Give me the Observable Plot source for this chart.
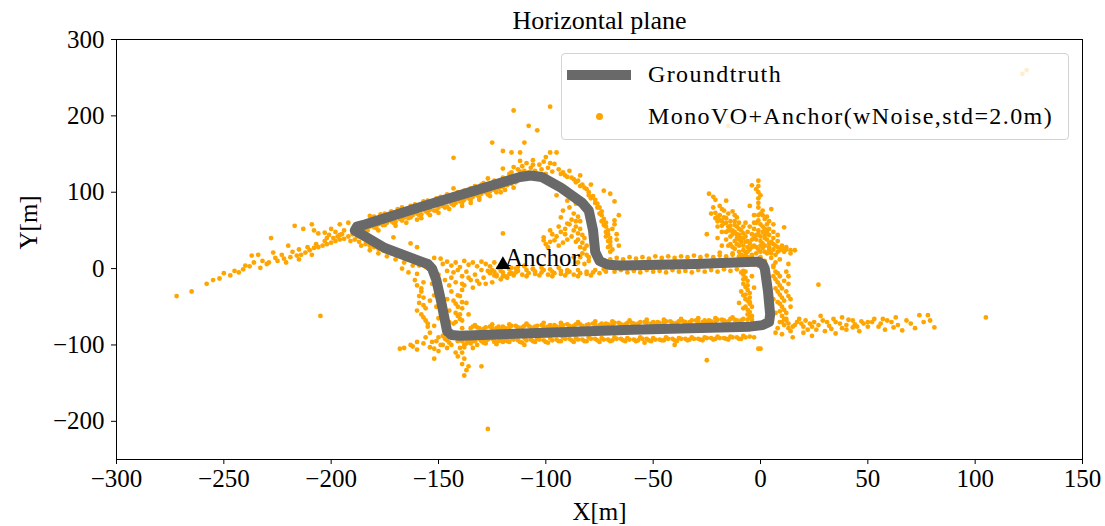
<!DOCTYPE html>
<html><head><meta charset="utf-8">
<script src="https://cdn.jsdelivr.net/npm/d3@7"></script>
<script src="https://cdn.jsdelivr.net/npm/@observablehq/plot@0.6"></script>
<style>
body{margin:0;background:#fff;}
#wrap{position:relative;width:1105px;height:526px;font-family:"Liberation Serif",serif;color:#000;}
#wrap svg{position:absolute;left:0;top:0;}
.legend{position:absolute;left:561px;top:53px;width:506px;height:85px;border:1px solid #d3d3d3;border-radius:4px;background:rgba(255,255,255,0.8);}
.legend .sw-line{position:absolute;left:5px;top:16px;width:64px;height:10px;background:dimgray;}
.legend .sw-dot{position:absolute;left:34px;top:59px;width:7px;height:7px;border-radius:50%;background:orange;}
.legend .lbl{position:absolute;left:86px;font-size:24px;line-height:24px;letter-spacing:1.4px;white-space:nowrap;}
</style></head>
<body><div id="wrap"></div>
<script>
const xTicks = [-300,-250,-200,-150,-100,-50,0,50,100,150];
const yTicks = [-200,-100,0,100,200,300];
const titleText = "Horizontal plane";
const seriesNames = ["Groundtruth", "MonoVO+Anchor(wNoise,std=2.0m)"];

// Groundtruth trajectory
const gtX = [-1,1,2,3.5,4.5,4,1,-5,-60,-100,-140,-144,-146,-147,-149,-151,-153,-155,-158,-175,-189,-188,-184,-158,-112,-107,-102,-93,-83,-80,-78,-77,-75,-71,-65,-30,-3,-1];
const gtY = [9,6,0,-30,-60,-70,-74,-76,-80,-84,-88,-87,-82,-68,-40,-15,0,6,9,27,50,55,58,81,120,122,120,106,86,76,50,22,10,5,4,6,9,9];

// Anchor
const anchorX = [-120], anchorY = [5], anchorLabel = ["Anchor"];

// MonoVO+Anchor estimates, by region
const voWest = [[-272,-36],[-265,-30],[-258,-20],[-255,-15],[-252,-13],[-250,-6],[-247,-9],[-245,-3],[-243,-5],[-241,-1],[-238,3],[-237,17],[-234,18],[-233,1],[-230,6],[-229,8],[-227,21],[-225,10],[-222,13],[-219,15],[-216,17],[-214,18],[-212,21],[-210,24],[-208,27],[-206,28],[-204,30],[-202,32],[-200,34],[-198,36],[-196,38],[-194,39],[-217,56],[-213,52],[-209,58],[-208,50],[-206,46],[-203,47],[-201,44],[-200,52],[-198,48],[-196,58],[-196,44],[-194,50],[-192,60],[-192,42],[-190,45],[-189,38],[-188,42],[-187,35],[-186,47],[-185,40],[-184,32],[-183,37],[-182,30],[-181,35],[-180,28],[-179,33],[-178,26],[-177,30],[-176,24],[-175,28],[-174,22],[-173,26],[-172,20],[-171,24],[-170,18],[-169,22],[-168,16],[-167,20],[-166,14],[-165,18],[-164,12],[-163,16],[-162,10],[-161,14],[-160,8],[-159,4],[-164,-5],[-160,-7],[-157,5],[-156,2],[-171,41],[-160,28],[-152,14],[-149,13],[-163,33],[-205,-62],[-228,40],[-220,30],[-191,36],[-186,30],[-182,24],[-178,20],[-174,16],[-170,12],[-166,8],[-162,4],[-167,0],[-197,42],[-202,40],
[-232,10],[-226,14],[-223,18],[-218,22],[-215,25],[-211,28],[-207,32],[-203,36],[-199,40],[-195,45],[-240,4],[-236,8],[-221,8],[-215,12],[-209,18]];
const voNorthWest = [[-184,52],[-182,55],[-180,54],[-178,58],[-176,57],[-174,60],[-172,62],[-170,61],[-168,65],[-166,67],[-164,66],[-162,70],[-160,72],[-158,71],[-156,75],[-154,77],[-152,76],[-150,80],[-148,82],[-146,81],[-144,85],[-142,86],[-140,88],[-138,90],[-136,92],[-134,94],[-132,96],[-130,98],[-128,100],[-126,101],[-124,103],[-122,105],[-120,107],[-118,109],[-116,111],[-114,113],[-178,50],[-170,56],[-165,60],[-158,66],[-150,73],[-145,78],[-139,82],[-135,86],[-131,90],[-126,95],[-121,100],[-160,64],[-154,70],[-180,68],[-175,72],[-169,78],[-163,82],[-157,88],[-151,92],[-146,97],[-143,105],[-138,102],[-133,108],[-129,112],[-127,118],[-124,115],[-120,119],[-120,131],[-143,145],[-125,165],[-115,207],[-98,212],[-120,154],[-116,152],[-112,152],[-110,165],[-108,187],[-104,181],[-98,152],[-95,152],[-116,126],[-113,130],[-111,134],[-109,138],[-107,132],[-105,128],[-103,136],[-101,140],[-99,132],[-97,127],[-112,141],[-106,142],[-104,124],[-100,124],[-96,137],[-108,126],[-114,121],[-110,128],[-106,136],[-102,130],[-98,138],[-115,133],[-100,146],[-94,130],[-92,126]];
const voNorthWestFill = [[-183,50],[-179,53],[-175,57],[-171,60],[-167,63],[-163,67],[-159,70],[-155,73],[-151,76],[-147,80],[-143,83],[-139,87],[-135,90],[-131,93],[-127,97],[-123,100],[-119,103],[-115,106],[-182,69],[-177,71],[-172,75],[-167,80],[-161,84],[-155,89],[-149,94],[-141,100],[-135,105],[-130,110],[-117,124],[-112,127]];
const voNorthEast = [[-93,124],[-90,120],[-87,117],[-85,115],[-83,110],[-81,104],[-80,100],[-78,95],[-77,90],[-76,85],[-75,80],[-74,75],[-74,70],[-73,65],[-72,60],[-72,55],[-71,50],[-71,45],[-70,40],[-70,35],[-70,30],[-69,25],[-68,63],[-67,45],[-66,30],[-68,88],[-70,98],[-66,70],[-79,110],[-84,122],[-89,128],[-73,102],[-90,89],[-93,67],[-90,59],[-87,72],[-85,46],[-84,28],[-98,50],[-101,41],[-96,37],[-99,28],[-87,15],[-82,6],[-101,37],[-92,76],[-89,80],[-88,64],[-86,55],[-85,38],[-83,20],[-91,45],[-94,55],[-86,85],[-88,95],[-92,100],[-95,96],[-84,62],[-82,40],[-81,30],[-80,15],[-120,46],
[-91,122],[-88,119],[-86,113],[-84,108],[-82,106],[-80,96],[-79,92],[-77,86],[-76,80],[-75,72],[-74,62],[-73,57],[-72,48],[-72,42],[-71,36],[-71,28],[-70,22],[-69,52],[-68,58],[-67,38],
[-97,45],[-95,42],[-93,48],[-91,52],[-89,58],[-87,50],[-86,62],[-85,68],[-84,52],[-83,44],[-83,34],[-82,26],[-81,18],[-80,10],[-100,32],[-98,35],[-94,30],[-92,34],[-90,38],[-88,42],[-86,35],[-84,15],[-85,8]];
const voMiddle = [[-126,-6],[-123,-8],[-120,-5],[-117,-7],[-114,-5],[-111,-8],[-108,-6],[-105,-7],[-102,-5],[-99,-8],[-96,-6],[-93,-7],[-90,-5],[-87,-8],[-84,-6],[-81,-7],[-78,-5],[-75,-6],[-72,-4],[-148,6],[-146,9],[-144,4],[-142,8],[-140,2],[-138,10],[-136,5],[-134,8],[-132,3],[-130,9],[-128,6],[-126,3],[-124,8],[-122,1],[-118,2],[-114,0],[-110,3],[-106,-1],[-102,1],[-98,-1],[-94,1],[-90,-2],[-141,-2],[-139,-10],[-137,-4],[-135,-15],[-133,-8],[-131,-20],[-129,-12],[-127,-3],[-125,-18],[-123,-10],[-121,-14],[-138,-22],[-134,-25],[-130,-2],[-144,-12],[-142,-18],[-146,-3],[-118,-12],[-113,2],[-110,4],[-106,0],[-116,1],
[-150,-8],[-147,-15],[-145,-22],[-143,-5],[-136,-12],[-132,-16],[-128,-20],[-124,-4],[-120,-10],[-116,-6]];
const voMiddleFill = [[-125,-2],[-121,-3],[-117,-1],[-113,-3],[-109,-2],[-105,-4],[-101,-2],[-97,-4],[-93,-3],[-89,-4],[-85,-2],[-81,-4],[-77,-2],[-73,-1],[-124,-9],[-119,-10],[-115,-9],[-109,-10],[-103,-9],[-97,-10],[-91,-9],[-85,-10],[-79,-9]];
const voSouthWest = [[-160,-22],[-158,-30],[-157,-38],[-159,-45],[-156,-52],[-158,-60],[-156,-68],[-155,-76],[-161,-15],[-157,-18],[-154,-42],[-160,-55],[-154,-84],[-143,-42],[-141,-50],[-142,-58],[-140,-66],[-143,-72],[-139,-78],[-137,-45],[-136,-60],[-144,-30],[-141,-35],[-139,-20],[-139,-28],[-140,-36],[-139,-44],[-139,-52],[-140,-60],[-139,-68],[-139,-95],[-138,-103],[-139,-110],[-138,-118],[-139,-125],[-137,-133],[-138,-140],[-136,-128],[-141,-115],[-166,-104],[-163,-100],[-160,-106],[-157,-98],[-154,-103],[-151,-95],[-149,-100],[-147,-92],[-145,-97],[-143,-90],[-141,-95],[-139,-91],[-137,-98],[-135,-92],[-133,-95],[-131,-90],[-129,-94],[-127,-91],[-168,-105],[-150,-108],[-146,-104],[-142,-110],[-148,-88],[-144,-86],[-127,-210],[-152,-118],[-130,-128],
[-156,-90],[-153,-96],[-150,-90],[-146,-94],[-144,-100],[-140,-104],[-136,-94],[-132,-100],[-128,-98],[-160,-96],[-162,-102],[-158,-26],[-159,-36],[-157,-48],[-157,-64],[-155,-72],[-142,-46],[-141,-62],[-142,-70],
[-153,-20],[-152,-35],[-151,-50],[-150,-65],[-152,-75],[-145,-55],[-146,-40],[-145,-70],[-148,-100],[-152,-105],[-138,-100],[-134,-104],[-124,-94],[-120,-96]];
const voSouth = [[-135,-78],[-132,-77],[-129,-79],[-126,-76],[-123,-78],[-120,-76],[-117,-77],[-114,-75],[-111,-77],[-108,-75],[-105,-76],[-102,-74],[-99,-76],[-96,-74],[-93,-75],[-90,-73],[-87,-75],[-84,-73],[-81,-74],[-78,-72],[-75,-74],[-72,-72],[-69,-73],[-66,-71],[-63,-73],[-60,-71],[-57,-72],[-54,-70],[-51,-72],[-48,-70],[-45,-71],[-42,-69],[-39,-71],[-36,-69],[-33,-70],[-30,-68],[-27,-70],[-24,-68],[-21,-69],[-18,-67],[-15,-69],[-12,-67],[-9,-68],[-6,-67],
[-133,-74],[-129,-81],[-125,-73],[-121,-80],[-117,-73],[-113,-79],[-109,-72],[-105,-79],[-101,-71],[-97,-78],[-93,-71],[-89,-77],[-85,-70],[-81,-77],[-77,-69],[-73,-76],[-69,-69],[-65,-75],[-61,-68],[-57,-75],[-53,-67],[-49,-74],[-45,-67],[-41,-73],[-37,-66],[-33,-72],[-29,-65],[-25,-71],[-21,-65],[-17,-71],[-13,-64],[-9,-70],[-5,-64],
[-137,-93],[-134,-95],[-131,-92],[-128,-94],[-125,-92],[-122,-95],[-119,-93],[-116,-92],[-113,-94],[-110,-91],[-107,-93],[-104,-92],[-101,-94],[-98,-91],[-95,-93],[-92,-90],[-89,-92],[-86,-91],[-83,-93],[-80,-90],[-77,-92],[-74,-91],[-71,-93],[-68,-90],[-65,-92],[-62,-91],[-59,-93],[-56,-90],[-53,-92],[-50,-91],[-47,-93],[-44,-90],[-41,-92],[-38,-91],[-35,-92],[-32,-90],[-29,-92],[-26,-90],[-23,-91],[-20,-89],[-17,-91],[-14,-89],[-11,-90],[-8,-88],[-5,-89],
[-135,-98],[-129,-97],[-123,-99],[-117,-96],[-111,-97],[-105,-96],[-99,-97],[-93,-95],[-87,-96],[-81,-95],[-75,-96],[-69,-94],[-63,-95],[-57,-94],[-51,-95],[-45,-94],[-39,-95],[-33,-93],[-27,-94],[-21,-92],[-15,-93],[-9,-92],
[-54,-97],[-25,-120],[0,-105],[-40,-100],[-110,-100]];
const voSouthFill = [[-134,-76],[-131,-78],[-128,-77],[-125,-78],[-122,-76],[-119,-78],[-116,-75],[-113,-77],[-110,-75],[-107,-77],[-104,-75],[-101,-76],[-98,-74],[-95,-76],[-92,-74],[-89,-75],[-86,-73],[-83,-75],[-80,-73],[-77,-74],[-74,-72],[-71,-73],[-68,-71],[-65,-73],[-62,-71],[-59,-72],[-56,-70],[-53,-71],[-50,-70],[-47,-71],[-44,-69],[-41,-71],[-38,-69],[-35,-70],[-32,-68],[-29,-70],[-26,-68],[-23,-69],[-20,-67],[-17,-68],[-14,-66],[-11,-68],[-8,-66],[-4,-67],
[-136,-96],[-133,-93],[-130,-95],[-127,-93],[-124,-96],[-121,-94],[-118,-95],[-115,-93],[-112,-96],[-109,-94],[-106,-95],[-103,-93],[-100,-96],[-97,-94],[-94,-95],[-91,-92],[-88,-94],[-85,-93],[-82,-95],[-79,-92],[-76,-94],[-73,-93],[-70,-95],[-67,-92],[-64,-94],[-61,-93],[-58,-95],[-55,-92],[-52,-94],[-49,-93],[-46,-94],[-43,-92],[-40,-94],[-37,-92],[-34,-94],[-31,-92],[-28,-93],[-25,-91],[-22,-93],[-19,-91],[-16,-92],[-13,-90],[-10,-92],[-7,-90],[-3,-90]];
const voEastTop = [[-70,12],[-67,14],[-64,12],[-61,15],[-58,13],[-55,15],[-52,13],[-49,16],[-46,14],[-43,16],[-40,14],[-37,16],[-34,15],[-31,17],[-28,15],[-25,17],[-22,15],[-19,17],[-16,16],[-13,18],[-10,16],[-7,18],[-4,17],[-68,-4],[-65,-2],[-62,-5],[-59,-3],[-56,-5],[-53,-2],[-50,-4],[-47,-3],[-44,-5],[-41,-2],[-38,-4],[-35,-3],[-32,-5],[-29,-2],[-26,-4],[-23,-2],[-20,-4],[-17,-1],[-14,-3],[-11,-1],[-8,-3]];
const voEast = [[-24,98],[-23,72],[-21,73],[-19,70],[-17,67],[-16,89],[-20,62],[-17,59],[-15,55],[-13,50],[-11,45],[-9,40],[-7,35],[-6,28],[-14,62],[-12,57],[-10,52],[-8,46],[-16,48],[-14,42],[-12,36],[-10,30],[-8,24],[-19,21],[-11,67],[-4,109],[-1,115],[-1,108],[-1,100],[-1,92],[0,72],[5,78],[-1,63],[1,55],[3,48],[2,40],[4,33],[1,27],[3,20],[5,14],[7,8],[-1,45],[0,36],[6,58],[8,44],[6,25],[2,65],[4,62],[11,54],[8,28],[10,26],[12,25],[14,24],[13,6],[27,-21],[-1,-105],[-22,80],[-18,78],[-13,75],[-5,82],[-3,70],[-15,30],[-5,55],[-3,40],[-2,20],[-13,20],[-6,15],[-25,45],[-20,40],[-18,30],
[-21,66],[-19,64],[-18,56],[-16,60],[-15,50],[-14,56],[-13,45],[-12,48],[-11,40],[-11,55],[-10,60],[-9,35],[-9,50],[-8,30],[-8,55],[-7,42],[-7,22],[-6,48],[-5,33],[-5,25],[-4,45],[-4,18],[-3,30],[-3,52],[-2,38],[-2,60],[-1,25],[-1,50],[0,15],[0,42],[0,58],[1,33],[1,48],[2,22],[2,52],[3,38],[3,58],[4,28],[4,44],[5,20],[5,35],[6,48],[7,30],[7,18],[8,36],[9,24],[10,30],[11,22],[-1,80],[-1,86],[0,96],[-2,104],[1,70],[3,68],[-19,82],[-21,90],[-22,94],[-15,72],[-17,76],[-12,70],[-20,55],[-18,48],[-16,38],[-14,32],[-12,26],[-10,22],[-8,16],[-4,12],[2,10],[9,12],[6,4],
[-9,-5],[-7,-12],[-8,-20],[-6,-28],[-8,-35],[-6,-42],[-7,-50],[-5,-57],[-4,-10],[-3,-25],[-10,-45],[-5,-38],[6,2],[8,-6],[7,-14],[9,-22],[8,-30],[10,-38],[9,-46],[11,-54],[10,-62],[12,-68],[13,-10],[12,-30],[14,-50],[6,-40],[7,-58],
[-8,-8],[-6,-16],[-7,-24],[-5,-32],[-7,-40],[-5,-46],[-6,-54],[-4,-62],[-9,-30],[-8,-52],[7,-4],[9,-10],[8,-18],[10,-26],[9,-34],[11,-42],[10,-50],[12,-58],[11,-66],[13,-72],[14,-40],[13,-20]];
const voEastFill = [[-20,68],[-18,62],[-16,66],[-14,50],[-12,62],[-10,44],[-10,38],[-8,40],[-6,36],[-6,22],[-4,28],[-4,38],[-2,44],[-2,28],[0,22],[0,30],[2,30],[2,44],[4,52],[4,24],[6,40],[6,32],[8,22],[-1,70],[1,76],[-3,60],[-7,60],[-11,32],[-13,28],[-9,18],[-5,10],[-3,5],[-1,4],[12,28],[14,20],[16,24],
[6,-10],[7,-26],[8,-44],[9,-56],[10,-70],[12,-4],[11,-16],[13,-36],[-7,-4],[-8,-14],[-6,-22],[-7,-34],[-5,-44],[-6,-60],[-4,-50]];
const voEastTail = [[5,-72],[8,-78],[11,-74],[14,-82],[17,-70],[20,-76],[23,-72],[26,-80],[29,-68],[32,-75],[35,-70],[38,-78],[41,-67],[44,-73],[47,-69],[50,-76],[53,-66],[56,-72],[59,-68],[62,-77],[66,-81],[68,-68],[74,-61],[78,-61],[81,-77],[79,-68],[58,-80],[46,-82],[35,-85],[24,-88],[15,-90],[10,-86],[20,-84],[30,-82],[40,-80],[50,-70],[63,-64],[105,-64],[18,-66],[28,-62],[38,-64],[7,-84],[13,-78],[16,-74],[22,-80],[27,-74],[33,-79],[43,-77],
[9,-70],[12,-66],[15,-76],[19,-72],[21,-68],[24,-76],[25,-70],[31,-70],[34,-66],[37,-72],[40,-74],[43,-68],[45,-76],[48,-72],[52,-70],[55,-76],[57,-66],[61,-70],[64,-74],[70,-72],[72,-78],[76,-70]];
const voFar = [[122,255],[124,260],[-15,187]];

const fmt = d => d < 0 ? "\u2212" + Math.abs(d) : String(d);
const toObj = a => a.map(([x,y]) => ({x,y}));
const dense = [voWest,voNorthWest,voNorthWestFill,voNorthEast,voMiddle,voMiddleFill,voSouthWest,voSouth,voSouthFill,voEastTop,voEast,voEastFill,voEastTail,voFar].flatMap(toObj);
const gt = gtX.map((x,i) => ({x, y: gtY[i]}));
const anchor = anchorX.map((x,i) => ({x, y: anchorY[i], label: anchorLabel[i]}));

const chart = Plot.plot({
  width: 1105, height: 526,
  marginLeft: 116, marginRight: 23, marginTop: 39, marginBottom: 67,
  style: {fontFamily: "Liberation Serif, serif", fontSize: "25px", color: "black", background: "white"},
  x: {domain: [-300, 150]},
  y: {domain: [-250, 300]},
  marks: [
    Plot.dot(dense, {x: "x", y: "y", r: 2.4, fill: "orange", stroke: "none"}),
    Plot.line(gt, {x: "x", y: "y", stroke: "dimgray", strokeWidth: 10, strokeLinejoin: "round", strokeLinecap: "round"}),
    Plot.dot(anchor, {x: "x", y: "y", symbol: "triangle", r: 5.5, fill: "black", stroke: "none"}),
    Plot.text(anchor, {x: "x", y: "y", text: "label", textAnchor: "start", lineAnchor: "bottom", dx: 2, dy: 1, fontSize: 25, fill: "black"}),
    Plot.frame({stroke: "black", strokeWidth: 1}),
    Plot.axisX({ticks: xTicks, tickFormat: fmt, tickSize: 5, tickPadding: 5, fontSize: 25, label: null, stroke: "black"}),
    Plot.axisY({ticks: yTicks, tickFormat: fmt, tickSize: 5, tickPadding: 7, fontSize: 25, label: null, stroke: "black"}),
    Plot.text([titleText], {frameAnchor: "top", dy: -19, fontSize: 26, fill: "black", lineAnchor: "middle"}),
    Plot.text(["X[m]"], {frameAnchor: "bottom", dy: 52, fontSize: 25, fill: "black", lineAnchor: "middle"}),
    Plot.text(["Y[m]"], {frameAnchor: "left", dx: -88, rotate: -90, fontSize: 25, fill: "black", lineAnchor: "middle"})
  ]
});
const wrap = document.getElementById("wrap");
wrap.appendChild(chart);
const lg = document.createElement("div");
lg.className = "legend";
lg.innerHTML = `<div class="sw-line"></div><div class="lbl" style="top:8px">${seriesNames[0]}</div><div class="sw-dot"></div><div class="lbl" style="top:50px">${seriesNames[1]}</div>`;
wrap.appendChild(lg);
</script></body></html>
